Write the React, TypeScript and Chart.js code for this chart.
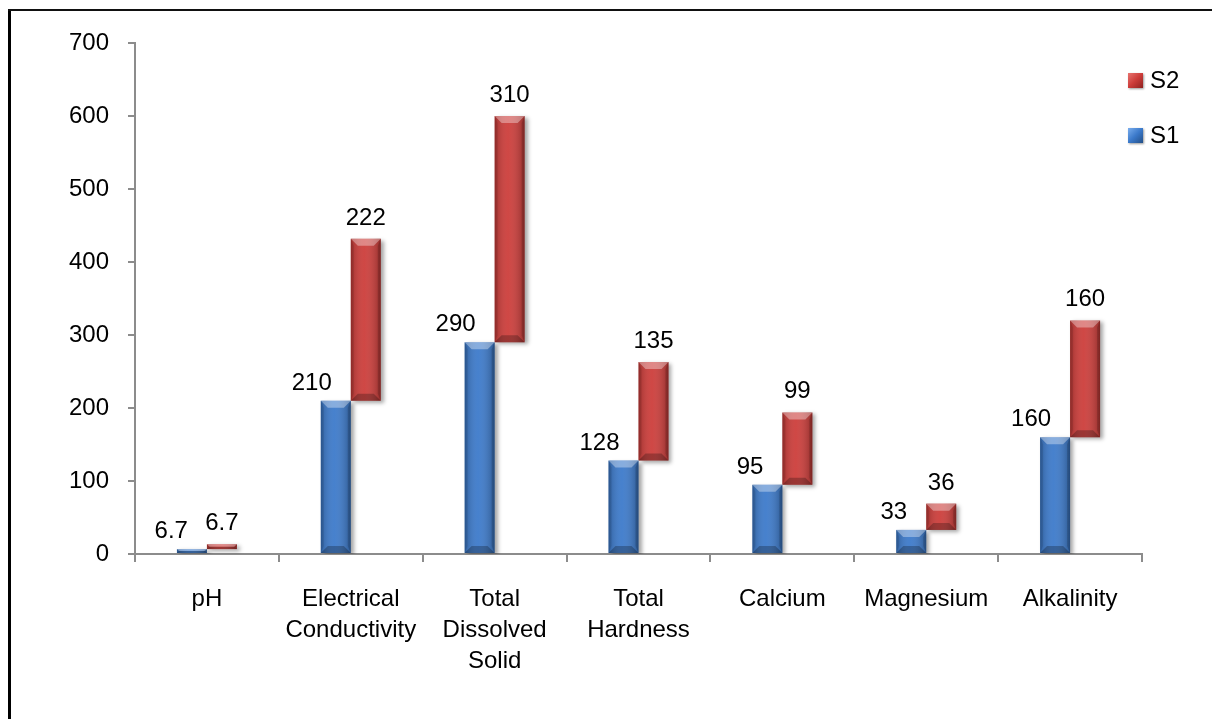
import React, { useEffect, useRef } from "react";
import { Chart, registerables } from "chart.js";

Chart.register(...registerables);

const categories: string[][] = [
  ["pH"],
  ["Electrical", "Conductivity"],
  ["Total", "Dissolved", "Solid"],
  ["Total", "Hardness"],
  ["Calcium"],
  ["Magnesium"],
  ["Alkalinity"],
];
const s1Values = [6.7, 210, 290, 128, 95, 33, 160];
const s2Values = [6.7, 222, 310, 135, 99, 36, 160];
const s1Labels = ["6.7", "210", "290", "128", "95", "33", "160"];
const s2Labels = ["6.7", "222", "310", "135", "99", "36", "160"];
const yMin = 0;
const yMax = 700;
const yStep = 100;

const FONT = '"Liberation Sans", Arial, sans-serif';
const FONT_SIZE = 24;

const BLUE = "#3B79CA";
const RED = "#CC3C39";

const shadowPlugin = {
  id: "barShadow",
  beforeDatasetsDraw(chart: any) {
    const ctx = chart.ctx;
    ctx.save();
    ctx.shadowColor = "rgba(0,0,0,0.35)";
    ctx.shadowBlur = 4;
    ctx.shadowOffsetX = 3;
    ctx.shadowOffsetY = 2;
  },
  afterDatasetsDraw(chart: any) {
    const ctx = chart.ctx;
    ctx.restore();
    chart.data.datasets.forEach((ds: any, di: number) => {
      const meta = chart.getDatasetMeta(di);
      meta.data.forEach((bar: any) => {
        const w = bar.width;
        const left = bar.x - w / 2;
        const right = bar.x + w / 2;
        const top = Math.min(bar.y, bar.base);
        const bottom = Math.max(bar.y, bar.base);
        const h = bottom - top;
        const b = Math.min(7, h / 2);
        const g = ctx.createLinearGradient(left, 0, right, 0);
        g.addColorStop(0, "rgba(0,0,0,0.22)");
        g.addColorStop(0.45, "rgba(255,255,255,0.06)");
        g.addColorStop(1, "rgba(0,0,0,0.28)");
        ctx.fillStyle = g;
        ctx.fillRect(left, top, w, h);
        ctx.fillStyle = "rgba(255,255,255,0.35)";
        ctx.beginPath();
        ctx.moveTo(left, top);
        ctx.lineTo(right, top);
        ctx.lineTo(right - b, top + b);
        ctx.lineTo(left + b, top + b);
        ctx.closePath();
        ctx.fill();
        ctx.fillStyle = "rgba(0,0,0,0.25)";
        ctx.beginPath();
        ctx.moveTo(left, bottom);
        ctx.lineTo(right, bottom);
        ctx.lineTo(right - b, bottom - b);
        ctx.lineTo(left + b, bottom - b);
        ctx.closePath();
        ctx.fill();
        ctx.fillStyle = "rgba(0,0,0,0.15)";
        ctx.beginPath();
        ctx.moveTo(right, top);
        ctx.lineTo(right, bottom);
        ctx.lineTo(right - 3, bottom - b);
        ctx.lineTo(right - 3, top + b);
        ctx.closePath();
        ctx.fill();
        ctx.fillStyle = "rgba(0,0,0,0.1)";
        ctx.beginPath();
        ctx.moveTo(left, top);
        ctx.lineTo(left, bottom);
        ctx.lineTo(left + 3, bottom - b);
        ctx.lineTo(left + 3, top + b);
        ctx.closePath();
        ctx.fill();
      });
    });
    ctx.save();
    ctx.font = `${FONT_SIZE}px ${FONT}`;
    ctx.fillStyle = "#000";
    ctx.textBaseline = "alphabetic";
    const m1 = chart.getDatasetMeta(0);
    m1.data.forEach((bar: any, i: number) => {
      const left = bar.x - bar.width / 2;
      ctx.textAlign = "right";
      ctx.fillText(s1Labels[i], left + 11, bar.y - 11);
    });
    const m2 = chart.getDatasetMeta(1);
    m2.data.forEach((bar: any, i: number) => {
      ctx.textAlign = "center";
      ctx.fillText(s2Labels[i], bar.x, bar.y - 14);
    });
    ctx.restore();
  },
};

export default function App() {
  const ref = useRef<HTMLCanvasElement | null>(null);
  useEffect(() => {
    document.documentElement.style.overflow = "hidden";
    if (!ref.current) return;
    const s1Data = s1Values.map((v) => [0, v]);
    const s2Data = s2Values.map((v, i) => [s1Values[i], s1Values[i] + v]);
    const chart = new Chart(ref.current, {
      type: "bar",
      data: {
        labels: categories as any,
        datasets: [
          {
            label: "S1",
            data: s1Data as any,
            backgroundColor: BLUE,
            borderWidth: 0,
            categoryPercentage: 0.417,
            barPercentage: 1.0,
          },
          {
            label: "S2",
            data: s2Data as any,
            backgroundColor: RED,
            borderWidth: 0,
            categoryPercentage: 0.417,
            barPercentage: 1.0,
          },
        ],
      },
      options: {
        responsive: false,
        animation: false,
        layout: { padding: { top: 35, right: 70, left: 0, bottom: 0 } },
        plugins: {
          legend: { display: false },
          tooltip: { enabled: false },
        },
        scales: {
          x: {
            grid: {
              offset: true,
              drawOnChartArea: false,
              drawTicks: true,
              tickLength: 8,
              color: "#8c8c8c",
              lineWidth: 2,
            },
            border: { color: "#8c8c8c", width: 2 },
            ticks: {
              color: "#000",
              font: { family: FONT, size: FONT_SIZE, lineHeight: 1.29 },
              padding: 22,
              maxRotation: 0,
              autoSkip: false,
            },
            afterFit: (scale: any) => {
              scale.height = 165;
            },
          },
          y: {
            min: yMin,
            max: yMax,
            grid: {
              drawOnChartArea: false,
              drawTicks: true,
              tickLength: 7,
              color: "#8c8c8c",
              lineWidth: 2,
            },
            border: { color: "#8c8c8c", width: 2 },
            ticks: {
              stepSize: yStep,
              color: "#000",
              font: { family: FONT, size: FONT_SIZE },
              padding: 19,
            },
            afterFit: (scale: any) => {
              scale.width = 127;
            },
          },
        },
      },
      plugins: [shadowPlugin],
    });
    return () => chart.destroy();
  }, []);

  const legendItem = (label: string, color: string, light: string, dark: string, top: number) => (
    <div style={{ position: "absolute", left: 1120, top, height: 20, display: "flex", alignItems: "center" }}>
      <div
        style={{
          width: 15,
          height: 15,
          background: `linear-gradient(135deg, ${light} 0%, ${color} 50%, ${dark} 100%)`,
          boxShadow: "1px 1px 2px rgba(0,0,0,0.4)",
        }}
      />
      <span style={{ marginLeft: 7, fontFamily: FONT, fontSize: FONT_SIZE, color: "#000", lineHeight: "20px" }}>{label}</span>
    </div>
  );

  return (
    <div style={{ position: "relative", width: 1204, height: 711 }}>
      <div style={{ position: "absolute", left: 0, top: 1, width: 3, height: 710, background: "#000" }} />
      <div style={{ position: "absolute", left: 0, top: 1, width: 1212, height: 2, background: "#111" }} />
      <canvas ref={ref} width={1204} height={711} style={{ position: "absolute", left: 0, top: 0 }} />
      {legendItem("S2", RED, "#E8746F", "#8E2220", 62)}
      {legendItem("S1", BLUE, "#7AAEEE", "#234F87", 117)}
    </div>
  );
}
